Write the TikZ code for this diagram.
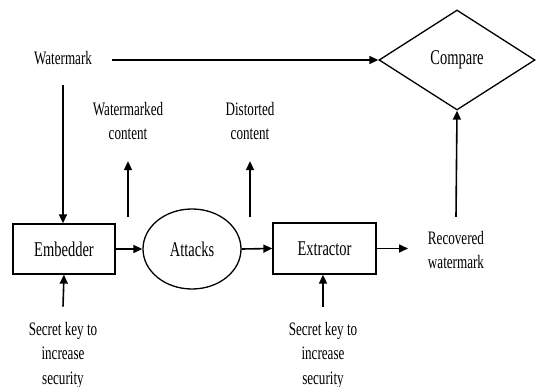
\documentclass[tikz,border=0pt]{standalone}
\usepackage{fontspec}
\setmainfont{Liberation Serif}[FakeStretch=0.69]
\usetikzlibrary{shapes.geometric,arrows.meta}
\tikzset{
  lbl/.style={font=\fontsize{19}{24.5}\selectfont, align=center, inner sep=0pt},
  boxlbl/.style={font=\fontsize{21}{24}\selectfont},
  rectbox/.style={draw, line width=1.3pt, boxlbl, minimum width=102pt, minimum height=50pt, inner sep=0pt},
  ellbox/.style={draw, ellipse, line width=1.3pt, boxlbl, minimum width=98pt, minimum height=80pt, inner sep=0pt},
  dmdbox/.style={draw, diamond, line width=1.3pt, boxlbl, minimum width=156pt, minimum height=100pt, inner sep=0pt},
  arr/.style={line width=1.6pt, -{Triangle[length=9pt,width=8pt]}},
}
\begin{document}
\begin{tikzpicture}[x=1pt,y=-1pt]
\useasboundingbox (0,0) rectangle (540,387);
% nodes
\node[lbl] (wm) at (63,58) {Watermark};
\node[dmdbox] (cmp) at (457,60) {Compare};
\node[rectbox] (emb) at (64,249) {Embedder};
\node[ellbox] (att) at (192,249) {Attacks};
\node[rectbox, minimum width=103pt, minimum height=51pt] (ext) at (324.5,248.5) {Extractor};
\node[lbl] (wmc) at (128,121) {Watermarked\\content};
\node[lbl] (dsc) at (250,121) {Distorted\\content};
\node[lbl] (rec) at (456,250) {Recovered\\watermark};
\node[lbl] (sk1) at (63,355) {Secret key to\\increase\\security};
\node[lbl] (sk2) at (323,355) {Secret key to\\increase\\security};
\coordinate (wmcfoot) at (128,217);
\coordinate (dscfoot) at (250,217);
\coordinate (recin) at (408,248.5);
% connectors
\draw[arr] ([xshift=20pt]wm.east |- cmp.west) -- (cmp.west);
\draw[arr] (wm.south |- 0,85) -- (wm.south |- emb.north);
\draw[arr] (emb.east) -- (att.west);
\draw[arr] (att.east) -- (ext.west);
\draw[arr] (ext.east) -- (recin);
\draw[arr] (wmcfoot) -- ([yshift=-21pt]wmc.south);
\draw[arr] (dscfoot) -- ([yshift=-21pt]dsc.south);
\draw[arr] ([yshift=14pt]rec.north) -- (cmp.south);
\draw[arr] ([yshift=15pt]sk1.north) -- (emb.south);
\draw[arr] ([yshift=15pt]sk2.north) -- (sk2.north |- ext.south);
\end{tikzpicture}
\end{document}
